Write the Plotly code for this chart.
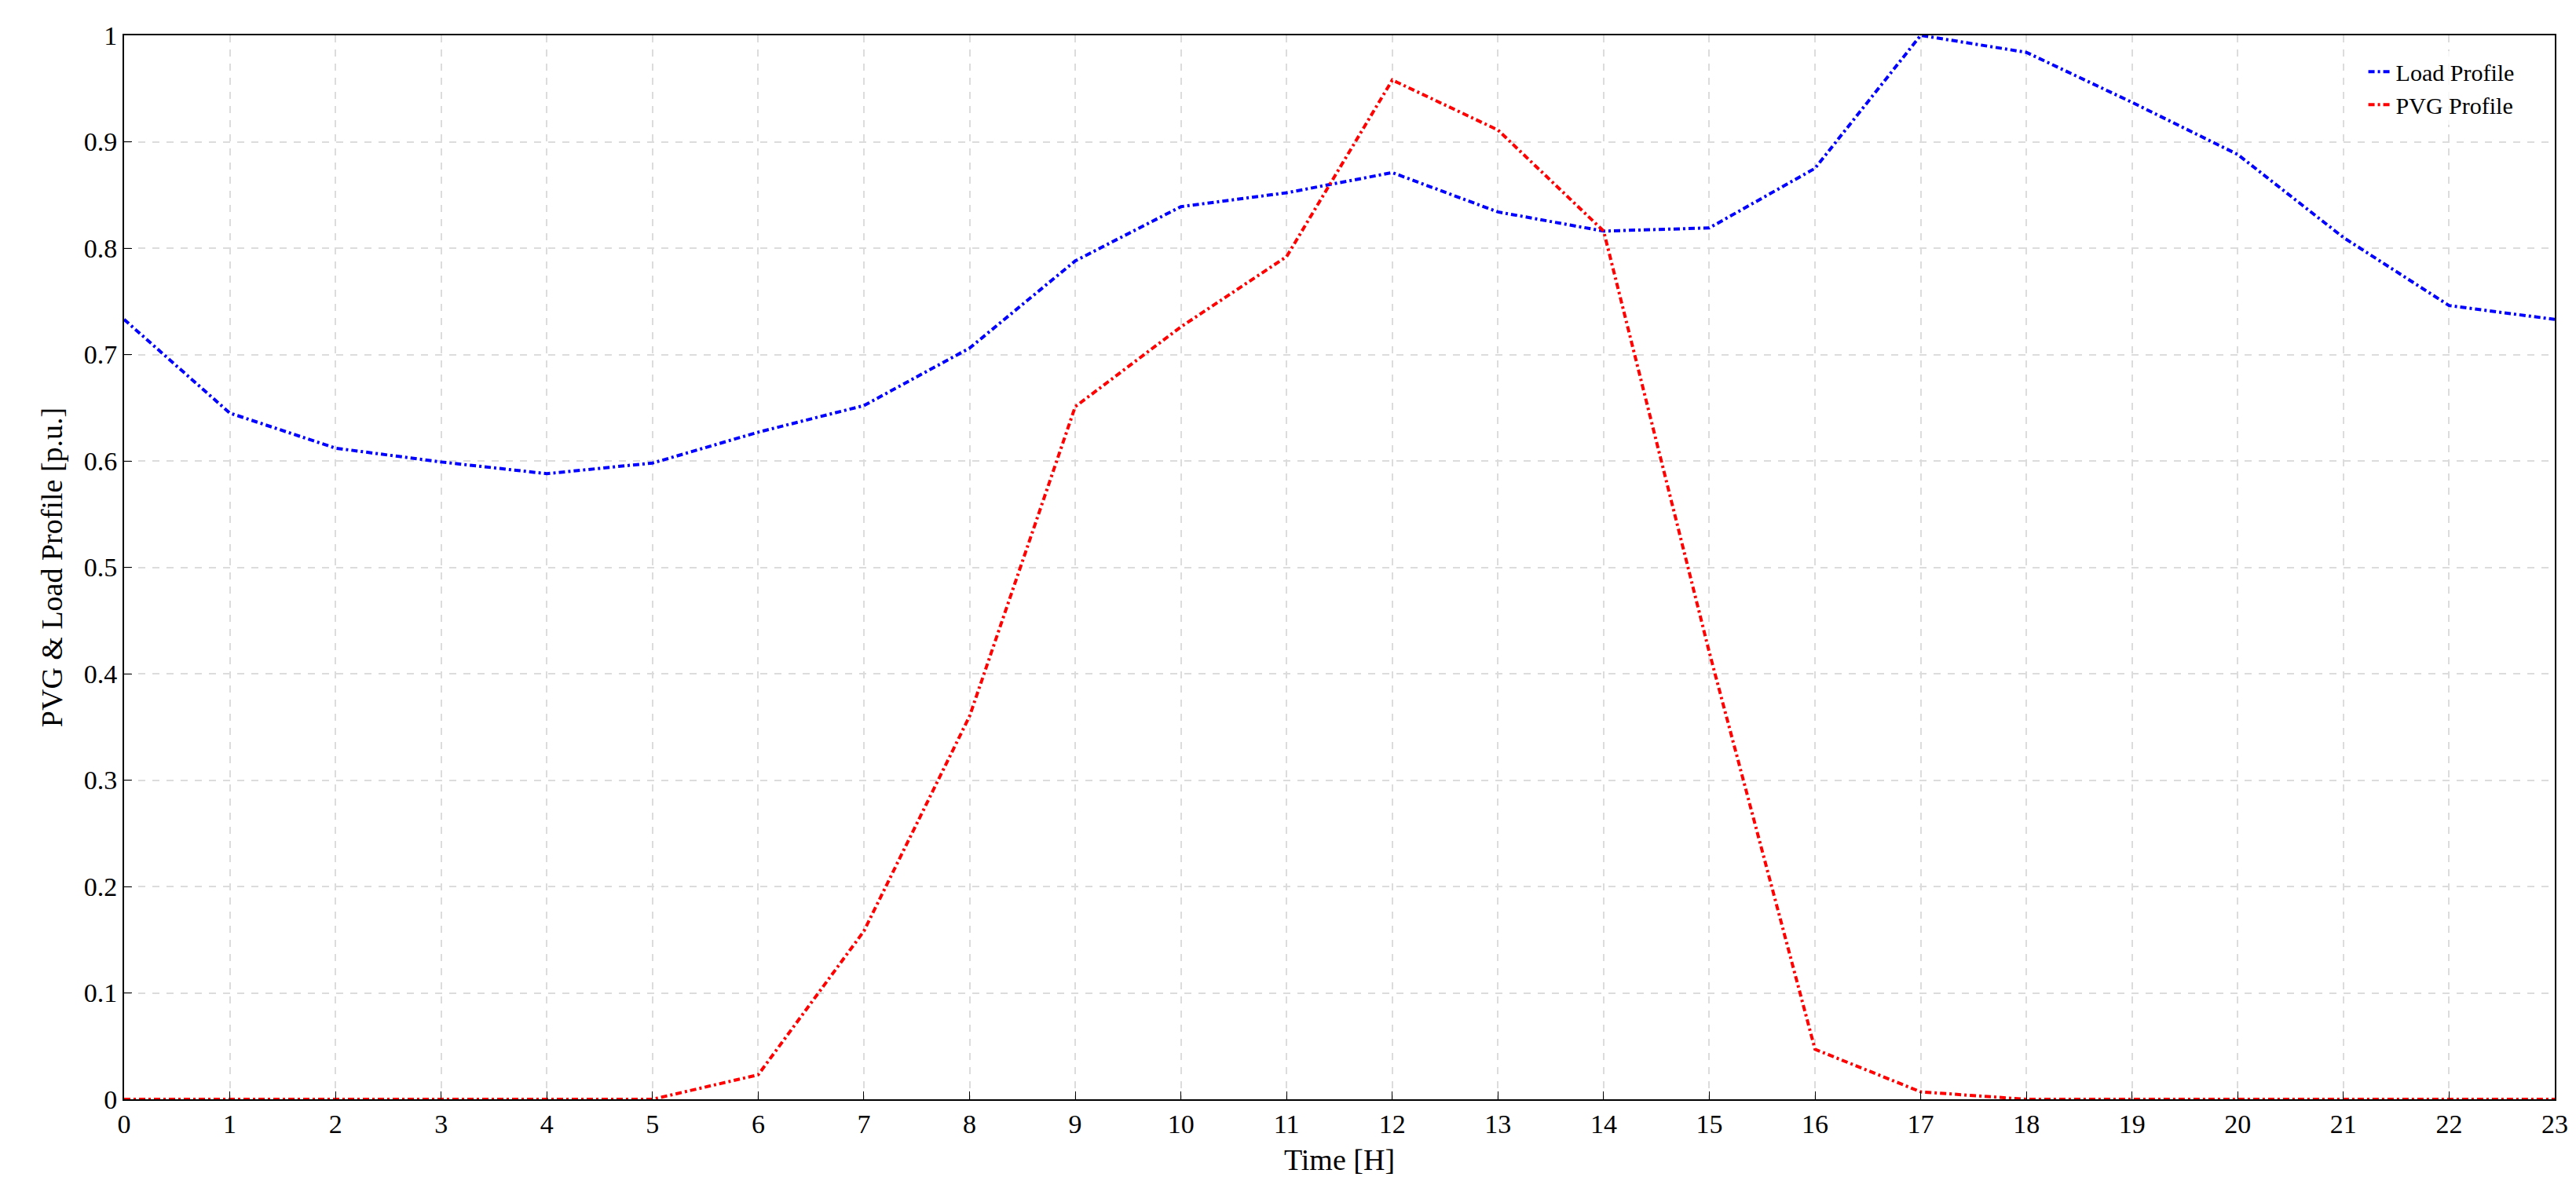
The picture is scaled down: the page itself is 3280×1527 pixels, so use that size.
import plotly.graph_objects as go

hours = list(range(24))
load_profile = [0.733, 0.645, 0.612, 0.599, 0.588, 0.598, 0.627, 0.652, 0.706, 0.788, 0.839, 0.852,
                0.871, 0.834, 0.816, 0.819, 0.875, 1.0, 0.984, 0.937, 0.888, 0.810, 0.746, 0.733]
pvg_profile = [0, 0, 0, 0, 0, 0, 0.023, 0.158, 0.360, 0.651, 0.726, 0.792,
               0.958, 0.911, 0.816, 0.420, 0.047, 0.007, 0, 0, 0, 0, 0, 0]
y_ticks = [0, 0.1, 0.2, 0.3, 0.4, 0.5, 0.6, 0.7, 0.8, 0.9, 1]
y_tick_labels = ["0", "0.1", "0.2", "0.3", "0.4", "0.5", "0.6", "0.7", "0.8", "0.9", "1"]

fig = go.Figure()
fig.add_trace(go.Scatter(x=hours, y=load_profile, name="Load Profile", mode="lines",
                         line=dict(color="blue", width=4, dash="8px,4px,3px,4px")))
fig.add_trace(go.Scatter(x=hours, y=pvg_profile, name="PVG Profile", mode="lines",
                         line=dict(color="red", width=4, dash="8px,4px,3px,4px")))

axis = dict(showline=True, linecolor="black", linewidth=2, mirror=True, ticks="inside",
            ticklen=10, tickcolor="black", showgrid=True, gridcolor="#dcdcdc", griddash="dash",
            gridwidth=1.5, zeroline=False, tickfont=dict(size=34, color="black"))

fig.update_layout(
    width=3280, height=1527,
    template="plotly_white",
    font=dict(family="Liberation Serif", size=36, color="black"),
    margin=dict(l=150, r=35, t=37, b=135),
    legend=dict(x=0.985, y=0.985, xanchor="right", yanchor="top", bgcolor="rgba(255,255,255,0.8)",
                font=dict(size=30)),
    xaxis=dict(axis, range=[0, 23], dtick=1, title=dict(text="Time [H]", font=dict(size=38))),
    yaxis=dict(axis, range=[0, 1], tickvals=y_ticks, ticktext=y_tick_labels,
               title=dict(text="PVG & Load Profile [p.u.]", font=dict(size=38))),
)

fig.write_html("out.html")
